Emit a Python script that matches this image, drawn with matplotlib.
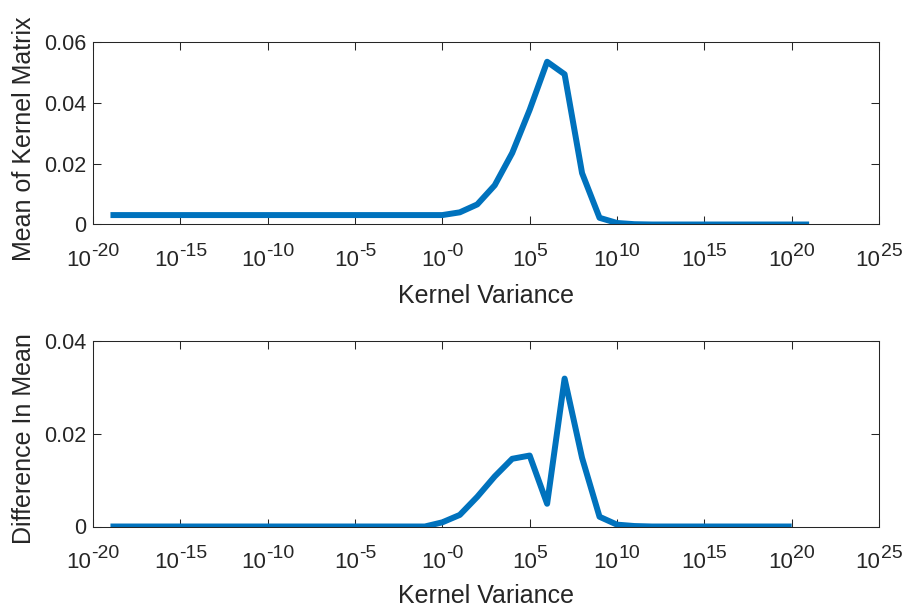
import matplotlib
matplotlib.use("Agg")
import matplotlib.pyplot as plt
from matplotlib.font_manager import FontProperties

# ---- data ----
top_exp = [-19, -18, -17, -16, -15, -14, -13, -12, -11, -10, -9, -8, -7, -6, -5, -4, -3, -2, -1,
           0, 1, 2, 3, 4, 5, 6, 7, 8, 9, 10, 11, 12, 13, 14, 15, 16, 17, 18, 19, 20, 21]
top_mean = [0.0031, 0.0031, 0.0031, 0.0031, 0.0031, 0.0031, 0.0031, 0.0031, 0.0031, 0.0031,
            0.0031, 0.0031, 0.0031, 0.0031, 0.0031, 0.0031, 0.0031, 0.0031, 0.0031,
            0.0031, 0.0040, 0.0066, 0.0129, 0.0235, 0.0377, 0.0535, 0.0494, 0.0169, 0.0022,
            0.0005, 0.0001, 0.0, 0.0, 0.0, 0.0, 0.0, 0.0, 0.0, 0.0, 0.0, 0.0]

bot_exp = [-19, -18, -17, -16, -15, -14, -13, -12, -11, -10, -9, -8, -7, -6, -5, -4, -3, -2, -1,
           0, 1, 2, 3, 4, 5, 6, 7, 8, 9, 10, 11, 12, 13, 14, 15, 16, 17, 18, 19, 20]
bot_diff = [0.0, 0.0, 0.0, 0.0, 0.0, 0.0, 0.0, 0.0, 0.0, 0.0,
            0.0, 0.0, 0.0, 0.0, 0.0, 0.0, 0.0, 0.0, 0.0,
            0.0009, 0.0025, 0.0064, 0.0108, 0.0146, 0.0153, 0.0049, 0.0319, 0.0148, 0.0021,
            0.0004, 0.0001, 0.0, 0.0, 0.0, 0.0, 0.0, 0.0, 0.0, 0.0, 0.0]

xtick_exps = [-20, -15, -10, -5, 0, 5, 10, 15, 20, 25]
xtick_labels = ["-20", "-15", "-10", "-5", "-0", "5", "10", "15", "20", "25"]
top_yticks = [0, 0.02, 0.04, 0.06]
top_yticklabels = ["0", "0.02", "0.04", "0.06"]
bot_yticks = [0, 0.02, 0.04]
bot_yticklabels = ["0", "0.02", "0.04"]

plt.rcParams['font.family'] = ['Liberation Sans', 'DejaVu Sans']

W, H = 904, 613
fig = plt.figure(figsize=(W / 100, H / 100), dpi=100)
renderer = fig.canvas.get_renderer()

line_color = '#0072BD'
ax_color = '#262626'
tick_fs = 15.5
label_fs = 18
base_fs = 16
sup_fs = 14

fp_base = FontProperties(family='Liberation Sans', size=base_fs)
fp_sup = FontProperties(family='Liberation Sans', size=sup_fs)


def make_axes(px_left, px_top, px_right, px_bottom):
    return fig.add_axes([px_left / W, 1 - px_bottom / H,
                         (px_right - px_left) / W, (px_bottom - px_top) / H])


def style(ax, yticks, yticklabels, ylim, ylabel, xlabel_base_px, ylabel_center_frac):
    ax.set_xscale('log')
    ax.set_xlim(10.0 ** -20, 10.0 ** 25)
    ax.set_ylim(*ylim)
    ax.set_xticks([10.0 ** e for e in xtick_exps])
    ax.set_xticklabels([''] * len(xtick_exps))
    ax.xaxis.set_minor_locator(matplotlib.ticker.NullLocator())
    ax.set_yticks(yticks)
    ax.set_yticklabels(yticklabels)
    ax.tick_params(axis='both', which='major', direction='in', length=5.5, width=0.75,
                   colors=ax_color, labelsize=tick_fs, top=True, right=True, pad=5)
    for s in ax.spines.values():
        s.set_color(ax_color)
        s.set_linewidth(0.75)

    # x tick labels: "10" with a raised exponent, centred on the tick
    w_base, _, _ = renderer.get_text_width_height_descent("10", fp_base, ismath=False)
    for e, lab in zip(xtick_exps, xtick_labels):
        w_sup, _, _ = renderer.get_text_width_height_descent(lab, fp_sup, ismath=False)
        x0 = -(w_base + w_sup) / 2.0
        ax.annotate("10", xy=(10.0 ** e, 0), xycoords=('data', 'axes fraction'),
                    xytext=(x0, -42), textcoords='offset pixels', ha='left', va='baseline',
                    fontproperties=fp_base, color=ax_color, annotation_clip=False)
        ax.annotate(lab, xy=(10.0 ** e, 0), xycoords=('data', 'axes fraction'),
                    xytext=(x0 + w_base, -32), textcoords='offset pixels', ha='left',
                    va='baseline', fontproperties=fp_sup, color=ax_color,
                    annotation_clip=False)

    ax.set_xlabel('Kernel Variance', fontsize=label_fs, color=ax_color, va='baseline')
    ax.xaxis.set_label_coords(0.5, 1 - xlabel_base_px / H, transform=fig.transFigure)
    ax.xaxis.label.set_transform(matplotlib.transforms.blended_transform_factory(
        ax.transAxes, fig.transFigure))
    ax.set_ylabel(ylabel, fontsize=label_fs, color=ax_color)
    ax.yaxis.set_label_coords(36 / W, ylabel_center_frac, transform=ax.transAxes)
    ax.yaxis.label.set_transform(matplotlib.transforms.blended_transform_factory(
        fig.transFigure, ax.transAxes))


ax1 = make_axes(93, 42, 879, 224.5)
ax1.plot([10.0 ** e for e in top_exp], top_mean, color=line_color, lw=4.3,
         solid_capstyle='butt', solid_joinstyle='round')
style(ax1, top_yticks, top_yticklabels, (0, 0.06), 'Mean of Kernel Matrix', 303, 0.47)

ax2 = make_axes(93, 341, 879, 526.5)
ax2.plot([10.0 ** e for e in bot_exp], bot_diff, color=line_color, lw=4.3,
         solid_capstyle='butt', solid_joinstyle='round')
style(ax2, bot_yticks, bot_yticklabels, (0, 0.04), 'Difference In Mean', 603, 0.475)

fig.savefig('out.png', dpi=100)
